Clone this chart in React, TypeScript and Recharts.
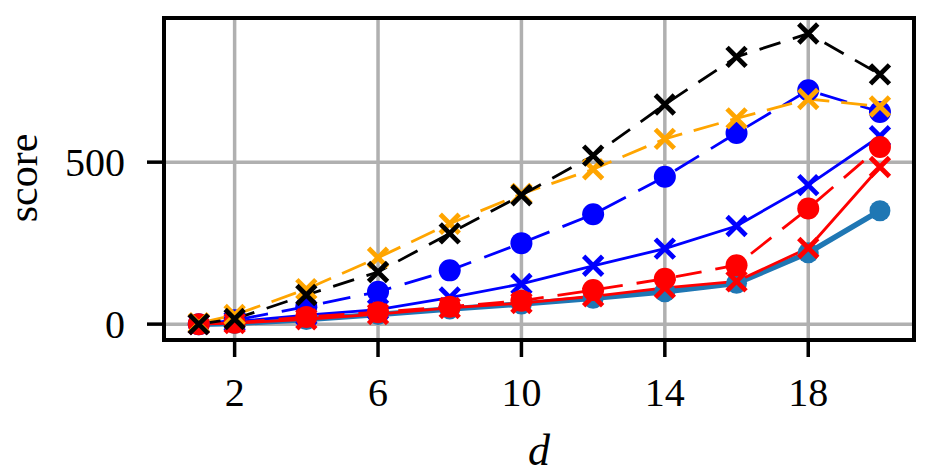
import React from 'react';
import { LineChart, Line, XAxis, YAxis, CartesianGrid, ReferenceArea, Label } from 'recharts';

const dValues = [1, 2, 4, 6, 8, 10, 12, 14, 16, 18, 20];
const steelCircle = [0, 2, 14, 30, 47, 62, 80, 100, 126, 220, 350];
const blueCross = [0, 8, 28, 45, 82, 124, 180, 233, 303, 429, 580];
const blueCircle = [0, 12, 54, 100, 166, 250, 339, 455, 590, 722, 655];
const redCross = [0, 3, 15, 31, 50, 65, 86, 112, 132, 235, 485];
const redCircle = [0, 4, 22, 37, 54, 72, 105, 140, 182, 357, 547];
const orangeCross = [3, 28, 108, 205, 310, 402, 478, 572, 635, 695, 672];
const blackCross = [0, 16, 90, 161, 280, 398, 520, 678, 825, 897, 771];

const xTicks = [2, 6, 10, 14, 18];
const yTicks = [0, 500];
const xDomain = [0.03, 20.95];
const yDomain = [-49, 945];

const data = dValues.map((d, i) => ({
  d,
  steelCircle: steelCircle[i],
  blueCross: blueCross[i],
  blueCircle: blueCircle[i],
  redCross: redCross[i],
  redCircle: redCircle[i],
  orangeCross: orangeCross[i],
  blackCross: blackCross[i],
}));

const FONT = 'Liberation Serif, serif';

const makeCross = (color: string) => (props: any) => {
  const { cx, cy, index } = props;
  if (cx == null || cy == null) return <g key={`c${index}`} />;
  const s = 9.5;
  return (
    <path
      key={`c${index}`}
      d={`M${cx - s},${cy - s}L${cx + s},${cy + s}M${cx + s},${cy - s}L${cx - s},${cy + s}`}
      stroke={color}
      strokeWidth={4.8}
      fill="none"
    />
  );
};

const makeCircle = (color: string, r: number) => (props: any) => {
  const { cx, cy, index } = props;
  if (cx == null || cy == null) return <g key={`o${index}`} />;
  return <circle key={`o${index}`} cx={cx} cy={cy} r={r} fill={color} stroke="none" />;
};

const YLabel = (props: any) => {
  const vb = props.viewBox || { x: 0, y: 18, width: 164, height: 322 };
  const x = 37;
  const y = vb.y + vb.height / 2 - 1;
  return (
    <text
      x={x}
      y={y}
      transform={`rotate(-90 ${x} ${y})`}
      textAnchor="middle"
      fontSize={42}
      fontFamily={FONT}
      fill="#000"
    >
      score
    </text>
  );
};

const tickStyle = { fill: '#000', fontSize: 40, fontFamily: FONT };

export default function App() {
  return (
    <div style={{ position: 'absolute', left: 0, top: 0, width: 933, height: 475, background: '#fff' }}>
      <LineChart width={933} height={475} data={data} margin={{ top: 18, right: 19, bottom: 0, left: 0 }}>
        <CartesianGrid stroke="#b0b0b0" strokeWidth={3.5} />
        <XAxis
          dataKey="d"
          type="number"
          domain={xDomain}
          ticks={xTicks}
          allowDataOverflow
          height={135}
          tickSize={17}
          tickMargin={21}
          axisLine={{ stroke: '#000', strokeWidth: 4 }}
          tickLine={{ stroke: '#000', strokeWidth: 3.5 }}
          tick={tickStyle}
          interval={0}
        >
          <Label
            value="d"
            position="insideBottom"
            offset={10}
            style={{ fontStyle: 'italic', fontSize: 44, fontFamily: FONT, fill: '#000' }}
          />
        </XAxis>
        <YAxis
          type="number"
          domain={yDomain}
          ticks={yTicks}
          allowDataOverflow
          width={164}
          tickSize={17}
          tickMargin={22}
          axisLine={{ stroke: '#000', strokeWidth: 4 }}
          tickLine={{ stroke: '#000', strokeWidth: 3.5 }}
          tick={tickStyle}
          interval={0}
        >
          <Label content={<YLabel />} />
        </YAxis>
        <Line
          dataKey="steelCircle"
          type="linear"
          stroke="#1f77b4"
          strokeWidth={5.5}
          dot={makeCircle('#1f77b4', 10.5)}
          activeDot={false}
          isAnimationActive={false}
        />
        <Line
          dataKey="blueCross"
          type="linear"
          stroke="#0000ff"
          strokeWidth={2.8}
          dot={makeCross('#0000ff')}
          activeDot={false}
          isAnimationActive={false}
        />
        <Line
          dataKey="blueCircle"
          type="linear"
          stroke="#0000ff"
          strokeWidth={2.8}
          strokeDasharray="28 14"
          dot={makeCircle('#0000ff', 11)}
          activeDot={false}
          isAnimationActive={false}
        />
        <Line
          dataKey="redCross"
          type="linear"
          stroke="#ff0000"
          strokeWidth={2.8}
          dot={makeCross('#ff0000')}
          activeDot={false}
          isAnimationActive={false}
        />
        <Line
          dataKey="redCircle"
          type="linear"
          stroke="#ff0000"
          strokeWidth={2.8}
          strokeDasharray="26 14"
          dot={makeCircle('#ff0000', 11)}
          activeDot={false}
          isAnimationActive={false}
        />
        <Line
          dataKey="orangeCross"
          type="linear"
          stroke="#ffa500"
          strokeWidth={2.8}
          strokeDasharray="26 12"
          dot={makeCross('#ffa500')}
          activeDot={false}
          isAnimationActive={false}
        />
        <Line
          dataKey="blackCross"
          type="linear"
          stroke="#000000"
          strokeWidth={2.8}
          strokeDasharray="22 13"
          dot={makeCross('#000000')}
          activeDot={false}
          isAnimationActive={false}
        />
        <ReferenceArea
          x1={xDomain[0]}
          x2={xDomain[1]}
          y1={yDomain[0]}
          y2={yDomain[1]}
          fill="none"
          fillOpacity={0}
          stroke="#000"
          strokeWidth={4}
          ifOverflow="visible"
        />
      </LineChart>
    </div>
  );
}
